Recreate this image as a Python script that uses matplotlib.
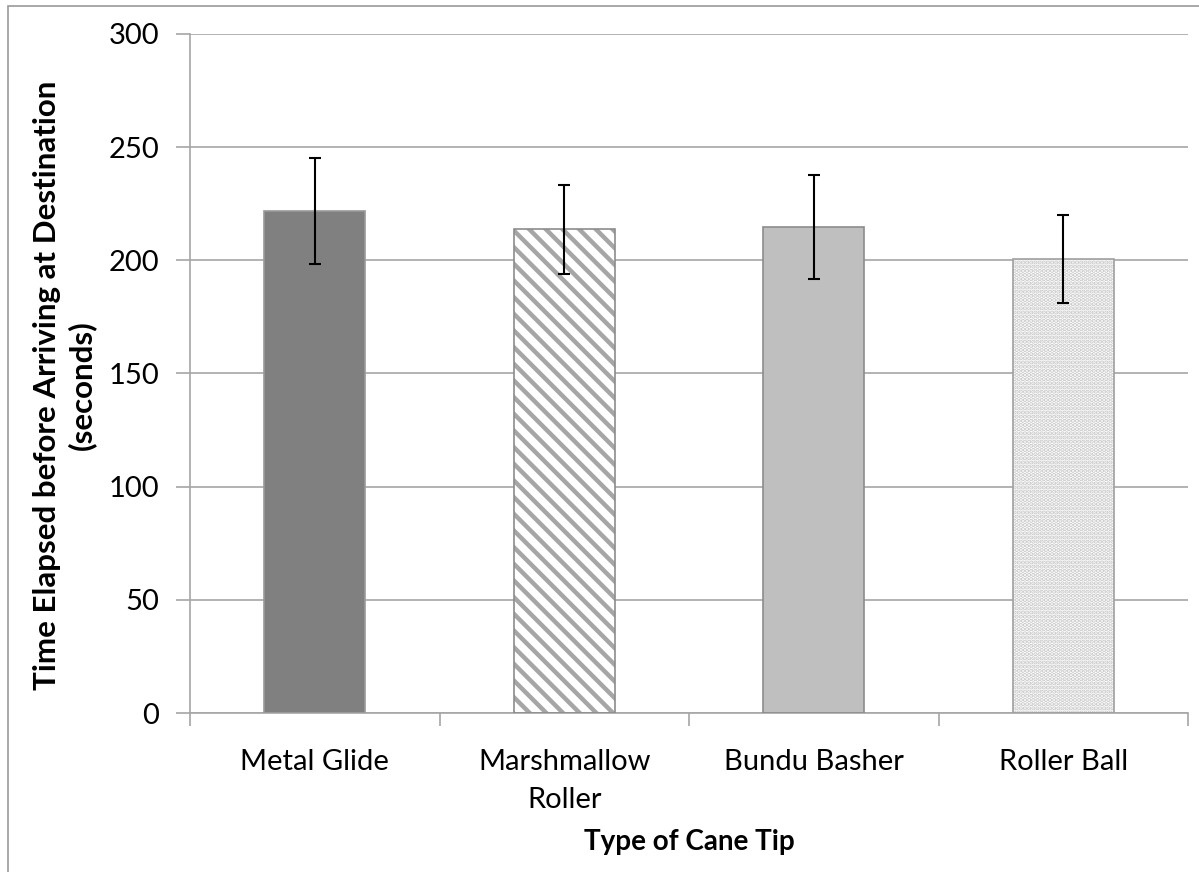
import matplotlib
matplotlib.use("Agg")
import matplotlib.pyplot as plt
from matplotlib.patches import Rectangle
import numpy as np

categories = ["Metal Glide", "Marshmallow\nRoller", "Bundu Basher", "Roller Ball"]
means = [221.8, 213.7, 214.8, 200.6]
errors = [23.5, 19.8, 23.0, 19.5]

plt.rcParams['font.family'] = ['Lato', 'DejaVu Sans']

fig = plt.figure(figsize=(11.99, 8.72), dpi=100)
ax = fig.add_axes([190/1199, 1-713/872, (1188-190)/1199, (713-34)/872])

# outer border
fig.patches.append(Rectangle((8/1199, -0.01), 1.02, 1-6/872+0.01, transform=fig.transFigure,
                             fill=False, edgecolor='#9a9a9a', linewidth=1.2))

x = np.arange(len(categories))
w = 0.405
grid_c = '#a6a6a6'

face = ['#808080', 'white', '#bfbfbf', 'white']
hatches = [None, '\\\\', None, '....']
hatch_c = [None, '#a6a6a6', None, '#c8c8c8']
hatch_lw = [None, 3.2, None, 2.2]
edge = ['#9a9a9a', '#8c8c8c', '#8c8c8c', '#a0a0a0']

for i in range(len(categories)):
    ax.bar(x[i], means[i], width=w, color=face[i], linewidth=0, zorder=2)
    if hatches[i]:
        plt.rcParams['hatch.linewidth'] = hatch_lw[i]
        ax.bar(x[i], means[i], width=w, fill=False, hatch=hatches[i],
               edgecolor=hatch_c[i], linewidth=0, zorder=2)
    ax.bar(x[i], means[i], width=w, fill=False, edgecolor=edge[i], linewidth=1.2, zorder=3)

ax.errorbar(x, means, yerr=errors, fmt='none', ecolor='black', elinewidth=1.5,
            capsize=4, capthick=1.5, zorder=4)

ax.set_xlim(-0.5, len(categories)-0.5)
ax.set_ylim(0, 300)
ax.set_yticks(np.arange(0, 301, 50))
ax.yaxis.grid(True, color=grid_c, linewidth=1.2, zorder=0)
ax.set_axisbelow(True)

ax.set_xticks(x)
ax.set_xticklabels(categories, fontsize=21, linespacing=1.55)
ax.set_xticks(np.arange(-0.5, len(categories)), minor=True)
ax.tick_params(axis='x', which='major', length=0, pad=26)
ax.tick_params(axis='x', which='minor', length=9, color=grid_c, width=1.2)
ax.tick_params(axis='y', which='major', length=10, color=grid_c, width=1.2, labelsize=21, pad=12)

for s in ['top', 'right']:
    ax.spines[s].set_visible(False)
for s in ['left', 'bottom']:
    ax.spines[s].set_color(grid_c)
    ax.spines[s].set_linewidth(1.2)

ax.set_xlabel("Type of Cane Tip", fontsize=20, fontweight='bold', labelpad=12)
ax.set_ylabel("Time Elapsed before Arriving at Destination\n(seconds)", fontsize=22.5,
              fontweight='bold', linespacing=1.25)
ax.yaxis.set_label_coords(-0.094, 0.483)

fig.savefig("out.png", dpi=100)
